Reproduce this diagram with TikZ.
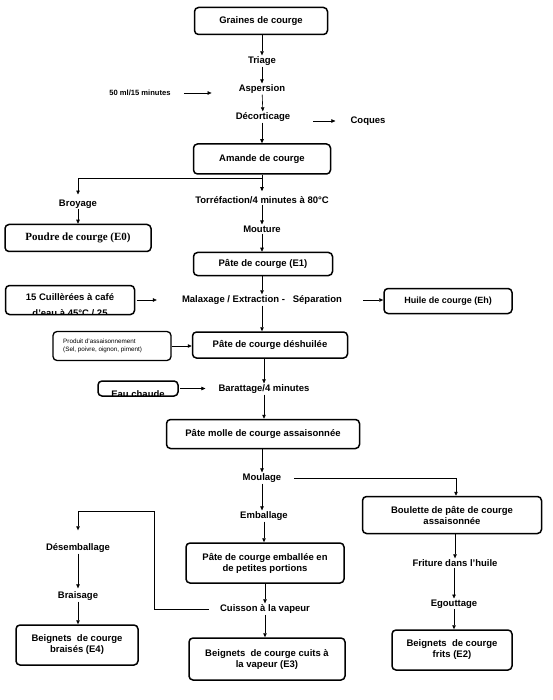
\documentclass[tikz,border=0pt]{standalone}
\usepackage{fontspec}
\setmainfont{Liberation Sans}
\newfontfamily\serifbf{Liberation Serif}
\usetikzlibrary{arrows.meta}
\begin{document}
\begin{tikzpicture}[x=1pt,y=-1pt,
  every node/.style={font=\fontsize{9.5}{11}\selectfont\bfseries, inner sep=1pt},
  box/.style={draw, line width=1.5pt, rounded corners=4pt, align=center},
  frame/.style={line width=1.5pt, rounded corners=4pt},
  hidden/.style={draw=none, outer sep=0pt},
  lbl/.style={align=center},
  arr/.style={line width=0.6pt, -{Triangle[length=4pt,width=3.5pt]}},
  ln/.style={line width=0.6pt}]
\useasboundingbox (0,0) rectangle (553,700);
% top chain
\node[box, minimum width=133pt, minimum height=27pt] (graines) at (261,21) {Graines de courge};
\node[lbl] (triage) at (262,61) {Triage};
\node[lbl] (aspersion) at (262,89) {Aspersion};
\node[lbl, font=\fontsize{7.6}{8}\selectfont\bfseries] (ml50) at (140,93) {50 ml/15 minutes};
\node[lbl] (decort) at (263,117) {Décorticage};
\node[lbl] (coques) at (368,121) {Coques};
\node[box, minimum width=137pt, minimum height=30pt] (amande) at (262,159) {Amande de courge};
\draw[arr] (graines.south -| triage) -- (triage);
\draw[arr] (triage) -- (aspersion);
\draw[arr] (aspersion) -- (decort);
\draw[arr] (decort.south -| amande) -- (amande.north);
\draw[arr, shorten <=12pt, shorten >=26pt] (ml50.east) -- (ml50.east -| aspersion.west);
\draw[arr, shorten <=22pt, shorten >=14pt] (decort.east |- coques) -- (coques.west);
% split
\coordinate (split) at (262,178);
\node[lbl] (broyage) at (78,204) {Broyage};
\node[box, minimum width=146pt, minimum height=27pt, font=\serifbf\fontsize{11}{12}\selectfont\bfseries] (poudre) at (78,238) {Poudre de courge (E0)};
\node[lbl] (torref) at (262,200) {Torréfaction/4 minutes à 80°C};
\node[lbl] (mouture) at (262,229) {Mouture};
\node[box, minimum width=139pt, minimum height=23pt] (pate1) at (263,264) {Pâte de courge (E1)};
\draw[ln] (amande) -- (split);
\draw[arr, shorten >=4pt] (split) -| (broyage.north);
\draw[arr, shorten >=4pt] (split) -- (torref.north);
\draw[arr] (broyage) -- (poudre);
\draw[arr] (torref) -- (mouture);
\draw[arr] (mouture) -- (mouture |- pate1.north);
% malaxage
\node[lbl] (malax) at (262,300) {Malaxage / Extraction -\ \ \ Séparation};
\node[hidden, minimum width=129pt, minimum height=29pt] (cuill) at (70,300) {};
\begin{scope}
\clip (cuill.south west) rectangle (cuill.north east);
\node[lbl] (cuilltxt) at (70,297) {15 Cuillèrées à café};
\node[lbl] (cuilltxtb) at (70,313) {d'eau à 45°C / 25};
\end{scope}
\draw[frame] (cuill.south west) rectangle (cuill.north east);
\node[box, minimum width=128pt, minimum height=25pt, font=\fontsize{9}{11}\selectfont\bfseries] (huile) at (448,301) {Huile de courge (Eh)};
\draw[arr] (pate1.south -| malax) -- (malax);
\draw[arr, shorten >=24pt, shorten <=2pt] (cuill.east |- malax) -- (malax.west);
\draw[arr, shorten <=20pt] (malax.east) -- (huile.west |- malax);
% deshuilee
\node[box, minimum width=155pt, minimum height=26pt] (deshuile) at (270,345) {Pâte de courge déshuilée};
\node[box, minimum width=118pt, minimum height=29pt, line width=1.3pt] (produit) at (112,346) {};
\node[align=left, font=\fontsize{6.3}{8.5}\selectfont, anchor=west] (produittxt) at (62,346) {Produit d'assaisonnement\\(Sel, poivre, oignon, piment)};
\draw[arr] (malax.south) -- (malax.south |- deshuile.north);
\draw[arr] (produit.east) -- (deshuile.west |- produit.east);
% barattage
\node[lbl] (baratt) at (264,389) {Barattage/4 minutes};
\node[hidden, minimum width=80pt, minimum height=15pt] (eau) at (138,388.5) {};
\begin{scope}
\clip (eau.south west) rectangle (eau.north east);
\node[lbl] (eautxt) at (138,394) {Eau chaude};
\end{scope}
\draw[frame] (eau.south west) rectangle (eau.north east);
\draw[arr, shorten >=12pt, shorten <=2pt] (eau.east) -- (baratt.west |- eau.east);
\draw[arr] (deshuile.south -| baratt) -- (baratt);
% molle
\node[box, minimum width=193pt, minimum height=29pt] (molle) at (263,434) {Pâte molle de courge assaisonnée};
\draw[arr] (baratt) -- (baratt |- molle.north);
\node[lbl] (moulage) at (262,478) {Moulage};
\draw[arr] (molle.south -| moulage) -- (moulage);
% branches
\node[lbl] (emball) at (264,516) {Emballage};
\node[box, minimum width=158pt, minimum height=40pt] (emballee) at (265,563) {Pâte de courge emballée en\\de petites portions};
\node[lbl] (cuisson) at (265,609) {Cuisson à la vapeur};
\node[box, minimum width=156pt, minimum height=42pt] (e3) at (267,659) {Beignets\ \ de courge cuits à\\la vapeur (E3)};
\draw[arr] (moulage) -- (moulage |- emball.north);
\draw[arr] (emball) -- (emball |- emballee.north);
\draw[arr] (emballee.south -| cuisson) -- (cuisson);
\draw[arr] (cuisson) -- (cuisson |- e3.north);
\node[box, minimum width=179pt, minimum height=37pt] (boulette) at (452,515) {Boulette de pâte de courge\\assaisonnée};
\node[lbl] (friture) at (455,563) {Friture dans l'huile};
\node[lbl] (egout) at (454,604) {Egouttage};
\node[box, minimum width=120pt, minimum height=40pt] (e2) at (452,650) {Beignets\ \ de courge\\frits (E2)};
\coordinate (bendR) at (456,478);
\draw[arr, shorten <=12pt] (moulage.east) -- (bendR) -- (bendR |- boulette.north);
\draw[arr] (boulette.south -| friture) -- (friture);
\draw[arr] (friture.south -| egout) -- (egout);
\draw[arr] (egout) -- (egout |- e2.north);
\node[lbl] (desemb) at (78,548) {Désemballage};
\node[lbl] (braisage) at (78,596) {Braisage};
\node[box, minimum width=122pt, minimum height=40pt] (e4) at (77,645) {Beignets\ \ de courge\\braisés (E4)};
\coordinate (bendL) at (154,511);
\draw[arr, shorten >=12pt, shorten <=10pt] (cuisson.west) -| (bendL) -| (desemb.north);
\draw[arr, shorten >=2pt] (desemb) -- (braisage);
\draw[arr] (braisage) -- (braisage |- e4.north);
\end{tikzpicture}
\end{document}
